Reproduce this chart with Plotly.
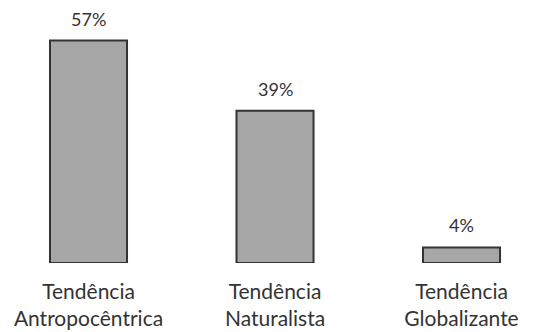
import plotly.graph_objects as go

# Tendências e seus percentuais
categorias = ["Tendência<br>Antropocêntrica", "Tendência<br>Naturalista", "Tendência<br>Globalizante"]
percentuais = [57, 39, 4]
rotulos = [f"{v}%" for v in percentuais]

FONTE = "Lato, 'Open Sans', sans-serif"
COR_TEXTO = "#333333"

fig = go.Figure(
    go.Bar(
        x=[0, 1, 2],
        y=percentuais,
        width=0.413,
        marker=dict(color="#a6a6a6", line=dict(color="#333333", width=2)),
        hoverinfo="skip",
    )
)

# Rótulos de valor acima de cada barra
for i, (v, t) in enumerate(zip(percentuais, rotulos)):
    fig.add_annotation(
        x=i, y=v, text=t, showarrow=False,
        xref="x", yref="y", yanchor="bottom", yshift=9,
        font=dict(family=FONTE, size=18, color=COR_TEXTO),
    )

fig.update_layout(
    width=538,
    height=332,
    margin=dict(l=0, r=0, t=0, b=69),
    paper_bgcolor="white",
    plot_bgcolor="white",
    showlegend=False,
    xaxis=dict(
        range=[-0.4745, 2.41],
        tickvals=[0, 1, 2],
        ticktext=categorias,
        showgrid=False,
        zeroline=False,
        showline=False,
        ticks="",
        ticklabelstandoff=14,
        tickfont=dict(family=FONTE, size=21, color=COR_TEXTO),
    ),
    yaxis=dict(
        range=[0, 67.4],
        visible=False,
    ),
)

fig.write_html("out.html")
